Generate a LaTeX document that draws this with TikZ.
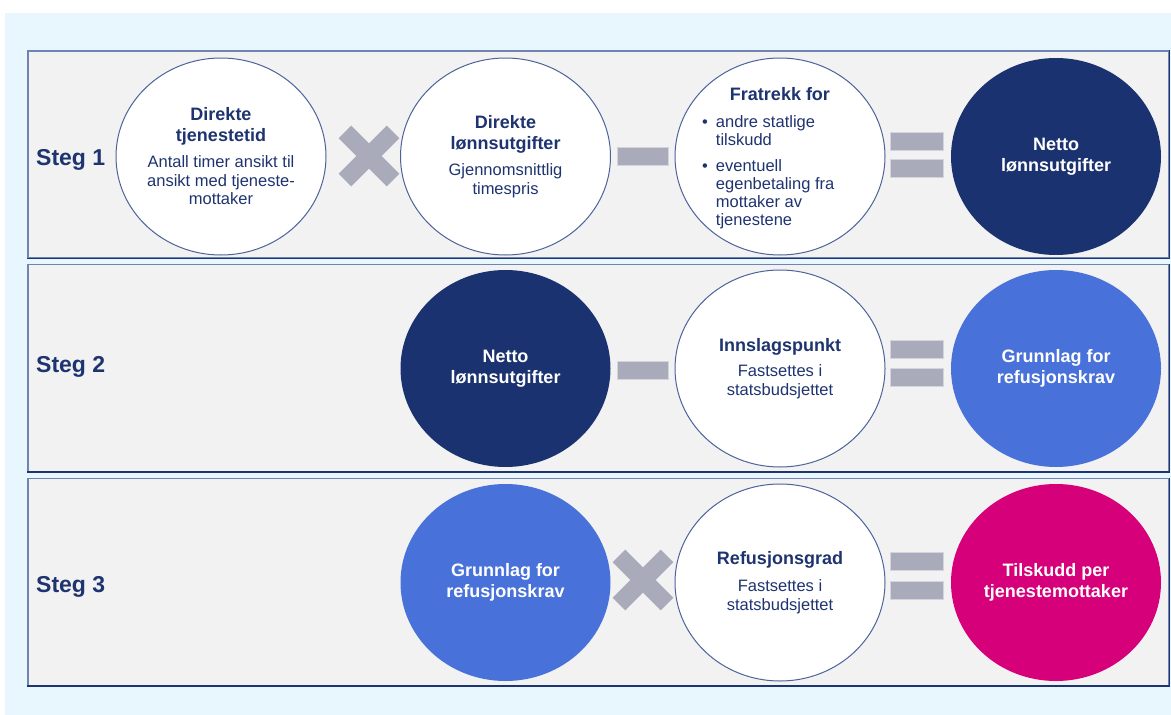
\documentclass[tikz,border=0pt]{standalone}
\usepackage{fontspec}
\setmainfont{Liberation Sans}
\usetikzlibrary{shapes.geometric}

\definecolor{bgblue}{HTML}{E8F6FD}
\definecolor{panelgray}{HTML}{F2F2F2}
\definecolor{edgelight}{HTML}{7083B2}
\definecolor{edgedark}{HTML}{1E3470}
\definecolor{navy}{HTML}{1A3270}
\definecolor{midblue}{HTML}{4872D9}
\definecolor{magenta}{HTML}{D5007A}
\definecolor{opgray}{HTML}{A9ABBA}
\definecolor{opedge}{HTML}{D3D5DE}
\definecolor{txtnavy}{HTML}{1E3470}
\definecolor{ringblue}{HTML}{4E639C}

% fonts for titles and plain text
\newcommand{\ttl}{\fontsize{18}{21.5}\selectfont\bfseries}
\newcommand{\bdy}{\fontsize{16.5}{18.5}\selectfont}

\begin{document}
\begin{tikzpicture}[x=1pt,y=-1pt,
  panel/.style={rectangle, fill=panelgray, draw=edgelight, line width=1.2pt,
    minimum width=1141pt, minimum height=207pt, inner sep=0pt},
  disc/.style={ellipse, minimum width=210pt, minimum height=197pt, inner sep=0pt,
    align=center},
  wdisc/.style={disc, fill=white, draw=ringblue, line width=1pt,
    text=txtnavy, font=\bdy},
  ndisc/.style={disc, fill=navy, text=white, font=\ttl},
  bdisc/.style={disc, fill=midblue, text=white, font=\ttl},
  mdisc/.style={disc, fill=magenta, text=white, font=\ttl},
  opbar/.style={rectangle, fill=opgray, draw=opedge, line width=0.8pt,
    inner sep=0pt},
  minusbar/.style={opbar, minimum width=51pt, minimum height=18pt},
  eqbar/.style={opbar, minimum width=53pt, minimum height=18pt},
  crossbar/.style={rectangle, fill=opgray, inner sep=0pt,
    minimum width=68pt, minimum height=18pt},
  steglabel/.style={anchor=base west, inner sep=0pt, text=txtnavy,
    font=\fontsize{23}{27}\selectfont\bfseries},
]
\useasboundingbox (0,0) rectangle (1171,715);
\fill[white] (0,0) rectangle (1171,715);
\fill[bgblue] (5,13) rectangle (1171,715);

% the three step panels
\node[panel] (p1) at (598.5,154.5) {};
\node[panel] (p2) at (598.5,368) {};
\node[panel] (p3) at (598.5,582) {};
\foreach \p in {p1,p2,p3}
  \draw[edgedark, line width=1.4pt] (\p.south west) -- (\p.south east) -- (\p.north east);

\node[steglabel] (s1) at (36,165) {Steg 1};
\node[steglabel] (s2) at (36,372) {Steg 2};
\node[steglabel] (s3) at (36,592) {Steg 3};

% ---- Steg 1 ----
\node[wdisc] (a1) at (221,156.5)
  {{\ttl Direkte}\\[2pt]{\ttl tjenestetid}\\[8pt]Antall timer ansikt til\\ansikt med tjeneste-\\mottaker};
\node[crossbar, rotate=45] (x1a) at (369,156) {};
\node[crossbar, rotate=-45] (x1b) at (369,156) {};
\node[wdisc] (b1) at (505.5,156.5)
  {{\ttl Direkte}\\[2pt]{\ttl lønnsutgifter}\\[8pt]Gjennomsnittlig\\timespris};
\node[minusbar] (m1) at (643,156) {};
\node[wdisc] (c1) at (780,156.5) {};
\node[text=txtnavy, font=\ttl, inner sep=0pt] (c1t) at (780,94) {Fratrekk for};
\node[anchor=north west, inner sep=0pt, text=txtnavy, font=\fontsize{16.5}{18}\selectfont]
  (c1l) at (702,114.5)
  {\begin{tabular}{@{}l@{\hspace{8pt}}l@{}}
   \textbullet & andre statlige\\
               & tilskudd\\[8pt]
   \textbullet & eventuell\\
               & egenbetaling fra\\
               & mottaker av\\
               & tjenestene
   \end{tabular}};
\node[eqbar] (e1a) at (916.5,141) {};
\node[eqbar] (e1b) at (916.5,168) {};
\node[ndisc] (d1) at (1056,156.5) {Netto\\lønnsutgifter};

% ---- Steg 2 ----
\node[ndisc] (b2) at (505.5,368.5) {Netto\\lønnsutgifter};
\node[minusbar] (m2) at (643,370) {};
\node[wdisc] (c2) at (780,368.5)
  {{\ttl Innslagspunkt}\\[7pt]Fastsettes i\\statsbudsjettet};
\node[eqbar] (e2a) at (916.5,349) {};
\node[eqbar] (e2b) at (916.5,377) {};
\node[bdisc] (d2) at (1056,368.5) {Grunnlag for\\refusjonskrav};

% ---- Steg 3 ----
\node[bdisc] (b3) at (505.5,582.5) {Grunnlag for\\refusjonskrav};
\node[crossbar, rotate=45] (x3a) at (643,580) {};
\node[crossbar, rotate=-45] (x3b) at (643,580) {};
\node[wdisc] (c3) at (780,582.5)
  {{\ttl Refusjonsgrad}\\[9pt]Fastsettes i\\statsbudsjettet};
\node[eqbar] (e3a) at (916.5,561) {};
\node[eqbar] (e3b) at (916.5,590) {};
\node[mdisc] (d3) at (1056,582.5) {Tilskudd per\\tjenestemottaker};
\end{tikzpicture}
\end{document}
